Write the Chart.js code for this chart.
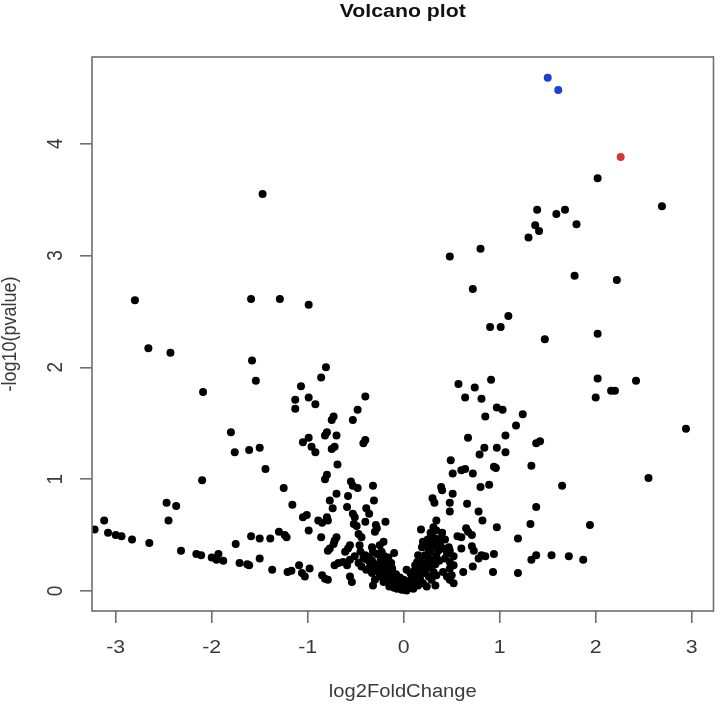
<!DOCTYPE html>
<html>
<head>
<meta charset="utf-8">
<title>Volcano plot</title>
<script src="https://cdn.jsdelivr.net/npm/chart.js@4.4.1/dist/chart.umd.min.js"></script>
<style>
  html, body { margin: 0; padding: 0; background: #fff; }
  #wrap { width: 720px; height: 707px; position: relative; }
</style>
</head>
<body>
<div id="wrap"><canvas id="volcano"></canvas></div>
<script>
'use strict';

// ------------------------------
// 1. Data: [log2FoldChange, -log10(pvalue)]
// ordinary genes (black)
const genePoints = [
  // left arm and upper left
  [-1.47, 3.55],
  [-2.80, 2.60], [-1.59, 2.61], [-1.29, 2.61], [-0.99, 2.56],
  [-2.66, 2.17], [-2.43, 2.13], [-1.58, 2.06], [-1.54, 1.88],
  [-0.81, 2.00], [-0.86, 1.91], [-1.07, 1.83], [-1.13, 1.71], [-1.13, 1.63],
  [-0.99, 1.73], [-0.92, 1.67], [-2.09, 1.78], [-0.40, 1.74], [-0.48, 1.62],
  [-0.53, 1.53], [-0.73, 1.56], [-0.75, 1.53], [-1.80, 1.42], [-0.80, 1.42],
  [-0.82, 1.39], [-0.70, 1.39], [-0.99, 1.37], [-1.05, 1.33], [-0.40, 1.35],
  [-0.42, 1.32], [-1.76, 1.24], [-1.50, 1.28], [-1.61, 1.26],
  [-1.44, 1.09], [-2.10, 0.99], [-1.25, 0.92],
  [-2.47, 0.79], [-2.37, 0.76], [-2.45, 0.63], [-1.16, 0.77],
  [-3.12, 0.63], [-3.22, 0.55], [-3.08, 0.52], [-3.00, 0.50], [-2.94, 0.49],
  [-2.83, 0.46], [-2.65, 0.43], [-2.32, 0.36], [-2.16, 0.33], [-2.11, 0.32],
  [-2.00, 0.30], [-1.93, 0.33], [-1.95, 0.28], [-1.88, 0.27],
  [-1.75, 0.42], [-1.71, 0.25], [-1.63, 0.24], [-1.61, 0.23],
  [-1.59, 0.49], [-1.50, 0.47], [-1.39, 0.47], [-1.30, 0.53], [-1.24, 0.50],
  [-1.22, 0.48], [-1.50, 0.29], [-1.37, 0.19], [-1.21, 0.17], [-1.17, 0.18],
  // centre left
  [-0.96, 1.29], [-0.92, 1.24], [-0.75, 1.27], [-0.72, 1.29],
  [-0.69, 1.13], [-0.80, 1.04], [-0.82, 1.00],
  [-0.55, 0.98], [-0.53, 0.94], [-0.48, 0.92], [-0.32, 0.94],
  [-0.70, 0.87], [-0.58, 0.85], [-0.77, 0.81], [-0.31, 0.81],
  [-0.74, 0.74], [-0.59, 0.75], [-0.39, 0.74],
  [-0.53, 0.69], [-0.51, 0.66], [-0.36, 0.69],
  [-1.01, 0.68], [-1.05, 0.66],
  [-0.89, 0.63], [-0.85, 0.61], [-0.80, 0.66], [-0.79, 0.63],
  [-0.40, 0.62], [-0.19, 0.62], [-0.52, 0.60], [-0.49, 0.58],
  [-0.29, 0.59], [-0.28, 0.56], [-0.30, 0.53],
  [-0.99, 0.54], [-0.86, 0.48], [-0.47, 0.51], [-0.44, 0.48],
  [-0.70, 0.48], [-0.72, 0.45], [-0.73, 0.42],
  [-0.21, 0.44], [-0.25, 0.41], [-0.56, 0.41], [-0.58, 0.38], [-0.61, 0.35],
  [-0.77, 0.38], [-0.79, 0.36], [-0.46, 0.41],
  [-0.33, 0.39], [-0.32, 0.35], [-0.28, 0.33], [-0.40, 0.32], [-0.42, 0.29],
  [-0.23, 0.35], [-0.20, 0.31], [-1.09, 0.23], [-0.98, 0.20],
  [-0.72, 0.23], [-0.68, 0.25], [-0.63, 0.26], [-0.59, 0.23], [-0.56, 0.28],
  [-0.51, 0.31], [-0.47, 0.25], [-0.44, 0.22], [-0.39, 0.19],
  [-0.35, 0.25], [-0.30, 0.22], [-0.26, 0.17], [-0.21, 0.22], [-0.18, 0.25],
  [-0.14, 0.17], [-0.13, 0.14], [-0.09, 0.11], [-0.06, 0.08],
  [-1.06, 0.16], [-1.03, 0.13], [-0.85, 0.14], [-0.82, 0.11], [-0.79, 0.10],
  [-0.56, 0.13], [-0.54, 0.08], [-0.33, 0.16], [-0.30, 0.10], [-0.32, 0.05],
  [-0.25, 0.13], [-0.21, 0.08], [-0.16, 0.10], [-0.11, 0.05], [-0.07, 0.02],
  [-0.15, 0.04], [-0.10, 0.08], [-0.12, 0.20], [-0.08, 0.15], [-0.05, 0.05],
  [-0.04, 0.12], [-0.18, 0.12], [-0.22, 0.15], [-0.27, 0.24], [-0.36, 0.20],
  [-0.38, 0.28], [-0.24, 0.28], [-0.16, 0.30], [-0.13, 0.25], [-0.10, 0.34],
  [-0.03, 0.04], [-0.02, 0.01], [0.00, 0.02], [0.02, 0.03], [0.03, 0.005],
  [-0.45, 0.35], [-0.36, 0.30], [-0.33, 0.27], [-0.27, 0.20], [-0.24, 0.19],
  [-0.19, 0.14], [-0.17, 0.20], [-0.15, 0.13], [-0.12, 0.09], [-0.10, 0.03],
  [-0.08, 0.06], [-0.06, 0.03], [-0.04, 0.07], [-0.01, 0.05],
  // centre right
  [0.84, 1.28], [0.97, 1.28], [0.79, 1.22], [1.06, 1.24],
  [0.49, 1.17], [0.94, 1.11], [0.96, 1.10],
  [0.60, 1.08], [0.64, 1.09], [0.51, 1.05], [0.72, 1.05],
  [0.89, 0.95], [0.80, 0.93], [0.39, 0.93], [0.40, 0.90], [0.51, 0.87],
  [0.30, 0.83], [0.32, 0.79], [0.48, 0.79], [0.66, 0.78],
  [0.48, 0.71], [0.78, 0.71], [0.82, 0.63], [0.34, 0.63],
  [0.97, 0.57], [0.18, 0.55], [0.31, 0.57], [0.34, 0.54],
  [0.29, 0.50], [0.32, 0.47], [0.40, 0.52], [0.38, 0.47],
  [0.65, 0.56], [0.67, 0.53], [0.71, 0.50], [0.56, 0.49], [0.60, 0.48],
  [0.20, 0.44], [0.24, 0.42], [0.19, 0.39],
  [0.31, 0.42], [0.34, 0.39], [0.36, 0.36],
  [0.47, 0.39], [0.48, 0.36], [0.45, 0.33], [0.60, 0.38],
  [0.71, 0.40], [0.73, 0.36], [0.81, 0.32], [0.78, 0.29], [0.85, 0.31], [0.94, 0.33],
  [0.15, 0.32], [0.17, 0.29], [0.14, 0.26], [0.12, 0.23],
  [0.22, 0.32], [0.26, 0.29], [0.23, 0.25],
  [0.34, 0.31], [0.37, 0.27], [0.33, 0.24],
  [0.43, 0.29], [0.48, 0.26], [0.52, 0.31],
  [0.52, 0.23], [0.48, 0.20], [0.72, 0.22], [0.62, 0.17], [0.93, 0.17],
  [0.03, 0.19], [0.07, 0.16], [0.10, 0.13],
  [0.19, 0.19], [0.22, 0.16], [0.26, 0.13], [0.17, 0.11],
  [0.31, 0.17], [0.34, 0.14], [0.29, 0.10],
  [0.41, 0.17], [0.45, 0.13], [0.48, 0.10],
  [0.00, 0.10], [0.03, 0.07], [0.01, 0.01], [0.07, 0.04],
  [0.12, 0.08], [0.15, 0.05], [0.10, 0.02], [0.20, 0.07], [0.24, 0.04],
  [0.33, 0.05], [0.50, 0.14], [0.52, 0.07],
  [0.04, 0.02], [0.06, 0.09], [0.08, 0.11], [0.09, 0.06], [0.11, 0.18],
  [0.13, 0.15], [0.16, 0.17], [0.18, 0.24], [0.21, 0.21], [0.24, 0.20],
  [0.27, 0.22], [0.28, 0.35], [0.30, 0.28], [0.26, 0.37], [0.35, 0.45],
  [0.38, 0.41], [0.41, 0.38], [0.43, 0.46], [0.25, 0.46], [0.28, 0.52],
  // right arm
  [1.33, 1.12], [2.55, 1.01], [1.65, 0.94], [1.38, 0.75], [1.32, 0.60],
  [1.94, 0.59], [1.19, 0.47], [1.33, 0.28], [1.38, 0.32], [1.54, 0.32],
  [1.72, 0.31], [1.87, 0.28], [1.19, 0.16],
  // upper right
  [2.02, 3.69], [2.69, 3.44], [1.39, 3.41], [1.68, 3.41], [1.59, 3.37],
  [1.80, 3.28], [1.37, 3.27], [1.41, 3.22], [1.30, 3.16],
  [0.48, 2.99], [0.80, 3.06], [0.72, 2.70], [1.09, 2.46], [0.90, 2.36], [1.01, 2.36],
  [1.78, 2.82], [2.22, 2.78], [1.47, 2.25], [2.02, 2.30], [2.02, 1.90], [2.42, 1.88],
  [2.16, 1.79], [2.20, 1.79], [2.00, 1.73], [2.94, 1.45],
  [0.57, 1.85], [0.91, 1.89], [0.74, 1.82], [0.64, 1.73], [0.81, 1.72],
  [0.97, 1.64], [1.03, 1.62], [0.85, 1.56], [0.67, 1.37], [1.06, 1.39],
  [1.24, 1.58], [1.17, 1.48], [1.42, 1.34], [1.38, 1.32]
];
// highlighted genes
const bluePoints = [[1.50, 4.59], [1.61, 4.48]];
const redPoints  = [[2.26, 3.88]];

// axes
const xTicks = [-3, -2, -1, 0, 1, 2, 3];
const yTicks = [0, 1, 2, 3, 4];
const xRange = [-3.247, 3.227];
const yRange = [-0.179, 4.775];

const titleText = 'Volcano plot';
const xLabel = 'log2FoldChange';
const yLabel = '-log10(pvalue)';

// ------------------------------
// 2. Look
const FONT = '"Liberation Sans", Arial, Helvetica, sans-serif';
const STRETCH = 1.12;          // the picture is a little wider than tall
const AXIS_GREY = '#6e6e6e';

const toXY = pts => pts.map(([x, y]) => ({ x, y }));

// draw a text horizontally stretched like the source image
function drawText(ctx, txt, x, y, { size, bold = false, color = '#333', rotate = false, baseline = 'alphabetic' }) {
  ctx.save();
  ctx.translate(x, y);
  ctx.scale(STRETCH, 1);
  if (rotate) ctx.rotate(-Math.PI / 2);
  ctx.font = `${bold ? 'bold ' : ''}${size}px ${FONT}`;
  ctx.fillStyle = color;
  ctx.textAlign = 'center';
  ctx.textBaseline = baseline;
  ctx.fillText(txt, 0, 0);
  ctx.restore();
}

// R-style frame, tick labels and titles
const rFrame = {
  id: 'rFrame',
  beforeDraw(chart) {
    const { ctx, width, height } = chart;
    ctx.save();
    ctx.fillStyle = '#fff';
    ctx.fillRect(0, 0, width, height);
    ctx.restore();
  },
  afterDraw(chart) {
    const { ctx, chartArea: a, scales: { x, y } } = chart;
    ctx.save();
    ctx.strokeStyle = AXIS_GREY;
    ctx.lineWidth = 1.6;
    ctx.strokeRect(a.left, a.top, a.right - a.left, a.bottom - a.top);
    ctx.restore();

    xTicks.forEach(v => drawText(ctx, String(v), x.getPixelForValue(v), 648,
      { size: 19, color: '#3a3a3a', baseline: 'middle' }));
    yTicks.forEach(v => drawText(ctx, String(v), 56, y.getPixelForValue(v),
      { size: 19, color: '#3a3a3a', rotate: true, baseline: 'middle' }));

    drawText(ctx, titleText, (a.left + a.right) / 2, 17, { size: 19, bold: true, color: '#111' });
    drawText(ctx, xLabel, (a.left + a.right) / 2, 697, { size: 18, color: '#3a3a3a' });
    drawText(ctx, yLabel, 10, (a.top + a.bottom) / 2, { size: 18, color: '#3a3a3a', rotate: true, baseline: 'middle' });
  }
};

const pointSet = (label, pts, color) => ({
  label,
  data: toXY(pts),
  backgroundColor: color,
  borderWidth: 0,
  pointRadius: 4,
  pointHoverRadius: 4
});

const axisGrid = {
  display: true,
  drawOnChartArea: false,
  drawTicks: true,
  tickLength: 12,
  color: AXIS_GREY,
  lineWidth: 1.6
};

// ------------------------------
// 3. Chart
new Chart(document.getElementById('volcano'), {
  type: 'scatter',
  data: {
    datasets: [
      pointSet('genes', genePoints, '#000'),
      pointSet('top (blue)', bluePoints, '#1c3fd4'),
      pointSet('top (red)', redPoints, '#d8353b')
    ]
  },
  options: {
    responsive: true,
    maintainAspectRatio: false,
    animation: false,
    devicePixelRatio: 1,
    layout: { padding: { top: 57, right: 6.5, bottom: 0, left: 0 } },
    plugins: {
      legend: { display: false },
      title: { display: false },
      tooltip: { enabled: false }
    },
    scales: {
      x: {
        type: 'linear',
        min: xRange[0],
        max: xRange[1],
        grid: axisGrid,
        border: { display: false },
        ticks: { display: false },
        afterBuildTicks: s => { s.ticks = xTicks.map(value => ({ value })); },
        afterFit: s => { s.height = 96; }
      },
      y: {
        type: 'linear',
        min: yRange[0],
        max: yRange[1],
        grid: axisGrid,
        border: { display: false },
        ticks: { display: false },
        afterBuildTicks: s => { s.ticks = yTicks.map(value => ({ value })); },
        afterFit: s => { s.width = 92; }
      }
    }
  },
  plugins: [rFrame]
});
</script>
</body>
</html>
